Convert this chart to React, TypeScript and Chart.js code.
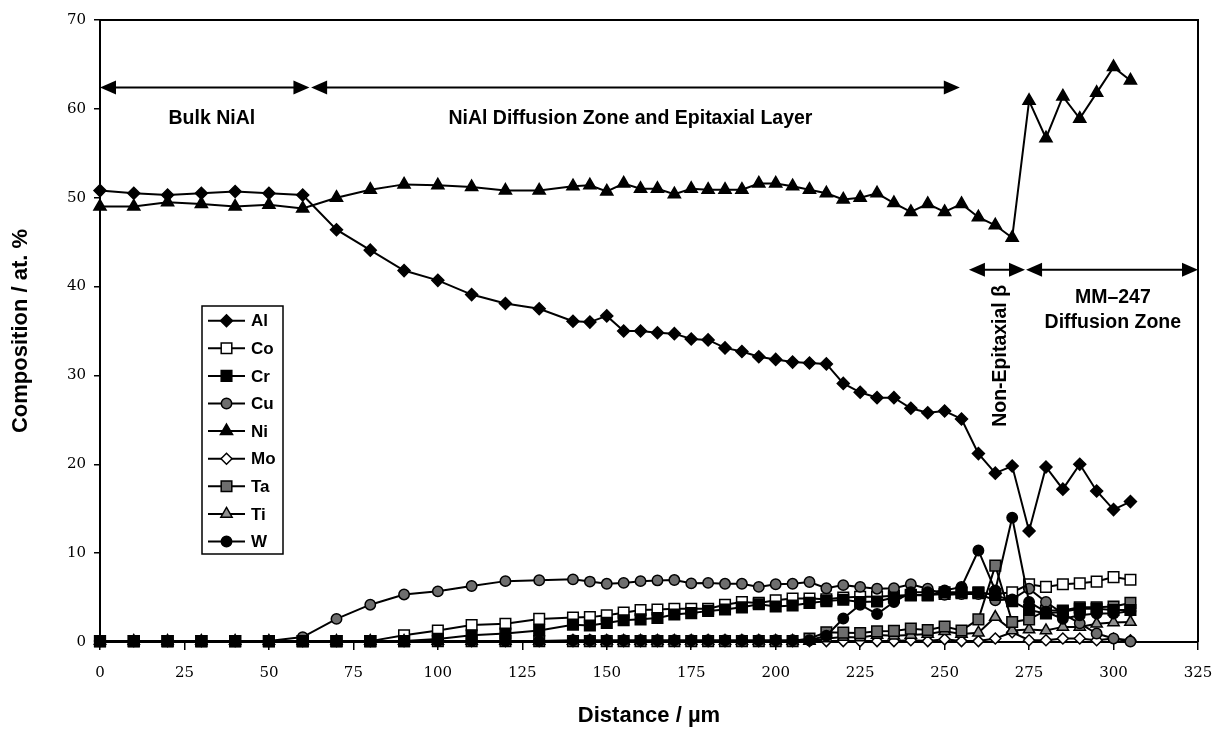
import React, { useEffect, useRef } from 'react';
import { Chart, registerables } from 'chart.js';
import { drawPoint } from 'chart.js/helpers';

Chart.register(...registerables);

// ---- data (distance in µm, composition in at.%) ----
const distance = [0, 10, 20, 30, 40, 50, 60, 70, 80, 90, 100, 110, 120, 130, 140,
  145, 150, 155, 160, 165, 170, 175, 180, 185, 190, 195, 200, 205, 210, 215, 220, 225, 230, 235, 240,
  245, 250, 255, 260, 265, 270, 275, 280, 285, 290, 295, 300, 305];

const alValues = [50.8, 50.5, 50.3, 50.5, 50.7, 50.5, 50.3, 46.4, 44.1, 41.8, 40.7, 39.1, 38.1, 37.5, 36.1,
  36.0, 36.7, 35.0, 35.0, 34.8, 34.7, 34.1, 34.0, 33.1, 32.7, 32.1, 31.8, 31.5, 31.4, 31.3, 29.1, 28.1, 27.5, 27.5, 26.3,
  25.8, 26.0, 25.1, 21.2, 19.0, 19.8, 12.5, 19.7, 17.2, 20.0, 17.0, 14.9, 15.8];

const coValues = [0.1, 0.1, 0.1, 0.1, 0.1, 0.1, 0.1, 0.1, 0.1, 0.75, 1.3, 1.9, 2.05, 2.6, 2.75,
  2.8, 3.0, 3.3, 3.6, 3.65, 3.75, 3.75, 3.75, 4.2, 4.5, 4.4, 4.7, 4.9, 4.9, 4.8, 5.0, 5.1, 5.1, 5.2, 5.3,
  5.3, 5.4, 5.5, 5.5, 5.4, 5.6, 6.5, 6.2, 6.5, 6.6, 6.8, 7.3, 7.0];

const crValues = [0.1, 0.1, 0.1, 0.1, 0.1, 0.1, 0.1, 0.1, 0.1, 0.1, 0.35, 0.75, 0.95, 1.3, 1.95,
  1.85, 2.15, 2.45, 2.55, 2.7, 3.1, 3.25, 3.5, 3.65, 3.9, 4.25, 4.0, 4.1, 4.4, 4.6, 4.75, 4.5, 4.55, 5.0, 5.25,
  5.25, 5.6, 5.6, 5.6, 5.3, 4.6, 3.6, 3.2, 3.4, 3.75, 3.75, 3.6, 3.6];

const cuValues = [0.1, 0.1, 0.1, 0.1, 0.1, 0.1, 0.55, 2.6, 4.2, 5.35, 5.7, 6.3, 6.85, 6.95, 7.05,
  6.8, 6.55, 6.65, 6.85, 6.93, 6.97, 6.6, 6.65, 6.55, 6.55, 6.2, 6.5, 6.55, 6.75, 6.05, 6.4, 6.2, 6.0, 6.05, 6.5,
  6.0, 5.3, 5.4, 5.4, 4.7, 4.8, 6.0, 4.5, 3.2, 2.1, 0.95, 0.4, 0.05];

const niValues = [49.0, 49.0, 49.5, 49.3, 49.0, 49.2, 48.8, 50.0, 50.9, 51.5, 51.4, 51.2, 50.8, 50.8, 51.3,
  51.4, 50.7, 51.6, 51.0, 51.0, 50.4, 51.0, 50.9, 50.9, 50.9, 51.6, 51.6, 51.3, 50.9, 50.5, 49.8, 50.0, 50.5, 49.4, 48.4,
  49.3, 48.4, 49.3, 47.8, 46.9, 45.5, 60.9, 56.7, 61.4, 58.9, 61.8, 64.7, 63.2];

const moValues = [0.1, 0.1, 0.1, 0.1, 0.1, 0.1, 0.1, 0.1, 0.1, 0.1, 0.1, 0.1, 0.1, 0.1, 0.1,
  0.1, 0.1, 0.1, 0.1, 0.1, 0.1, 0.1, 0.1, 0.1, 0.1, 0.1, 0.1, 0.1, 0.1, 0.1, 0.1, 0.1, 0.1, 0.1, 0.2,
  0.1, 0.3, 0.1, 0.1, 0.4, 1.1, 0.2, 0.2, 0.4, 0.4, 0.2, 0.4, 0.2];

const taValues = [0.1, 0.1, 0.1, 0.1, 0.1, 0.1, 0.1, 0.1, 0.1, 0.1, 0.1, 0.1, 0.1, 0.1, 0.1,
  0.1, 0.1, 0.1, 0.1, 0.1, 0.1, 0.1, 0.1, 0.1, 0.1, 0.1, 0.1, 0.1, 0.4, 1.1, 1.05, 1.0, 1.2, 1.25, 1.5,
  1.35, 1.75, 1.3, 2.55, 8.6, 2.25, 2.55, 3.55, 3.55, 3.9, 3.9, 4.0, 4.4];

const tiValues = [0.1, 0.1, 0.1, 0.1, 0.1, 0.1, 0.1, 0.1, 0.1, 0.1, 0.1, 0.1, 0.1, 0.1, 0.1,
  0.1, 0.1, 0.1, 0.1, 0.1, 0.1, 0.1, 0.1, 0.1, 0.1, 0.1, 0.1, 0.1, 0.1, 0.4, 0.55, 0.5, 0.8, 0.7, 0.8,
  0.9, 1.2, 0.9, 1.05, 2.8, 1.3, 1.4, 1.3, 1.7, 1.7, 2.05, 2.2, 2.25];

const wValues = [0.1, 0.1, 0.1, 0.1, 0.1, 0.1, 0.1, 0.1, 0.1, 0.1, 0.1, 0.1, 0.1, 0.1, 0.2,
  0.2, 0.2, 0.2, 0.2, 0.2, 0.2, 0.2, 0.2, 0.2, 0.2, 0.2, 0.2, 0.2, 0.2, 0.7, 2.65, 4.2, 3.15, 4.5, 5.6,
  5.6, 5.8, 6.2, 10.3, 5.8, 14.0, 4.5, 3.4, 2.6, 3.0, 3.2, 3.2, 3.5];

const seriesLabels = ['Al', 'Co', 'Cr', 'Cu', 'Ni', 'Mo', 'Ta', 'Ti', 'W'];

// ---- axes ----
const xMin = 0, xMax = 325, xStep = 25;
const yMin = 0, yMax = 70, yStep = 10;
const xTitle = 'Distance / µm';
const yTitle = 'Composition / at. %';

// ---- annotations (data coordinates) ----
const zoneArrows = [
  { from: 0, to: 62, y: 62.4 },
  { from: 62.5, to: 254.5, y: 62.4 },
  { from: 257.2, to: 273.8, y: 41.9 },
  { from: 274.1, to: 325, y: 41.9 },
];
const zoneTexts = [
  { text: 'Bulk NiAl', x: 33.1, y: 58.3, vertical: false },
  { text: 'NiAl Diffusion Zone and Epitaxial Layer', x: 157.0, y: 58.3, vertical: false },
  { text: 'MM\u2013247', x: 299.8, y: 38.2, vertical: false },
  { text: 'Diffusion Zone', x: 299.8, y: 35.3, vertical: false },
  { text: 'Non-Epitaxial \u03b2', x: 266.7, y: 32.2, vertical: true },
];

const GRAY = '#6e6e6e';
const LIGHTGRAY = '#8f8f8f';

// draw order: lower number is drawn on top
const styles: Record<string, any> = {
  Al: { pointStyle: 'rectRot', radius: 6, fill: '#000', order: 0 },
  Co: { pointStyle: 'rect', radius: 7.5, fill: '#fff', order: 7 },
  Cr: { pointStyle: 'rect', radius: 7.5, fill: '#000', order: 2 },
  Cu: { pointStyle: 'circle', radius: 5.2, fill: GRAY, order: 4 },
  Ni: { pointStyle: 'triangle', radius: 7, fill: '#000', order: 1 },
  Mo: { pointStyle: 'rectRot', radius: 5.5, fill: '#fff', order: 8 },
  Ta: { pointStyle: 'rect', radius: 7.5, fill: GRAY, order: 5 },
  Ti: { pointStyle: 'triangle', radius: 6.5, fill: LIGHTGRAY, order: 6 },
  W: { pointStyle: 'circle', radius: 5.2, fill: '#000', order: 3 },
};

const valuesByLabel: Record<string, number[]> = {
  Al: alValues, Co: coValues, Cr: crValues, Cu: cuValues, Ni: niValues,
  Mo: moValues, Ta: taValues, Ti: tiValues, W: wValues,
};

const BOLD = "'Liberation Sans', Arial, sans-serif";
const SERIF = "'DejaVu Serif', serif";

function arrowHead(ctx: CanvasRenderingContext2D, tipX: number, y: number, dir: number) {
  const L = 16, H = 7;
  ctx.beginPath();
  ctx.moveTo(tipX, y);
  ctx.lineTo(tipX - dir * L, y - H);
  ctx.lineTo(tipX - dir * L, y + H);
  ctx.closePath();
  ctx.fill();
}

const framePlugin = {
  id: 'frame',
  afterDatasetsDraw(chart: any) {
    const { ctx, chartArea: ca } = chart;
    ctx.save();
    ctx.strokeStyle = '#000';
    ctx.lineWidth = 2;
    ctx.beginPath();
    ctx.moveTo(ca.left, ca.top);
    ctx.lineTo(ca.right, ca.top);
    ctx.lineTo(ca.right, ca.bottom);
    ctx.stroke();
    ctx.restore();
  },
};

const annotationPlugin = {
  id: 'zones',
  afterDraw(chart: any) {
    const { ctx } = chart;
    const xs = chart.scales.x, ys = chart.scales.y;
    ctx.save();
    ctx.fillStyle = '#000';
    ctx.strokeStyle = '#000';
    ctx.lineWidth = 2;
    for (const a of zoneArrows) {
      const x1 = xs.getPixelForValue(a.from);
      const x2 = xs.getPixelForValue(a.to);
      const y = ys.getPixelForValue(a.y);
      ctx.beginPath();
      ctx.moveTo(x1 + 8, y);
      ctx.lineTo(x2 - 8, y);
      ctx.stroke();
      arrowHead(ctx, x1, y, -1);
      arrowHead(ctx, x2, y, 1);
    }
    ctx.font = `bold 19.5px ${BOLD}`;
    for (const t of zoneTexts) {
      const x = xs.getPixelForValue(t.x);
      const y = ys.getPixelForValue(t.y);
      if (t.vertical) {
        ctx.save();
        ctx.translate(x, y);
        ctx.rotate(-Math.PI / 2);
        ctx.textAlign = 'center';
        ctx.textBaseline = 'middle';
        ctx.fillText(t.text, 0, 0);
        ctx.restore();
      } else {
        ctx.textAlign = 'center';
        ctx.textBaseline = 'alphabetic';
        ctx.fillText(t.text, x, y);
      }
    }

    // legend box
    const ca = chart.chartArea;
    const bx = ca.left + 102, by = ca.top + 286, bw = 81, bh = 248;
    ctx.fillStyle = '#fff';
    ctx.fillRect(bx, by, bw, bh);
    ctx.strokeStyle = '#000';
    ctx.lineWidth = 1.5;
    ctx.strokeRect(bx, by, bw, bh);
    chart.data.datasets.forEach((ds: any, i: number) => {
      const cy = by + 14.7 + i * 27.6;
      ctx.strokeStyle = '#000';
      ctx.lineWidth = 2;
      ctx.beginPath();
      ctx.moveTo(bx + 6, cy);
      ctx.lineTo(bx + 43, cy);
      ctx.stroke();
      ctx.fillStyle = ds.pointBackgroundColor;
      ctx.lineWidth = ds.pointBorderWidth;
      drawPoint(ctx, { pointStyle: ds.pointStyle, radius: ds.pointRadius, rotation: 0, borderWidth: ds.pointBorderWidth } as any, bx + 24.5, cy);
      ctx.fillStyle = '#000';
      ctx.font = `bold 17px ${BOLD}`;
      ctx.textAlign = 'left';
      ctx.textBaseline = 'middle';
      ctx.fillText(ds.label, bx + 49, cy + 1);
    });
    ctx.restore();
  },
};

export default function App() {
  const ref = useRef<HTMLCanvasElement>(null);
  useEffect(() => {
    document.body.style.margin = '0';
    const canvas = ref.current!;
    const datasets = seriesLabels.map((label) => {
      const st = styles[label];
      const vals = valuesByLabel[label];
      return {
        label,
        data: distance.map((x, i) => ({ x, y: vals[i] })),
        order: st.order,
        borderColor: '#000',
        borderWidth: 2,
        pointStyle: st.pointStyle,
        pointRadius: st.radius,
        pointHoverRadius: st.radius,
        pointBackgroundColor: st.fill,
        pointBorderColor: '#000',
        pointBorderWidth: 1.5,
        tension: 0,
        fill: false,
        clip: false as any,
      };
    });
    const chart = new Chart(canvas, {
      type: 'line',
      data: { datasets },
      options: {
        responsive: false,
        animation: false,
        devicePixelRatio: 1,
        layout: { padding: { left: 0, right: 18, top: 20, bottom: 0 } },
        plugins: { legend: { display: false }, tooltip: { enabled: false } },
        scales: {
          x: {
            type: 'linear',
            min: xMin,
            max: xMax,
            ticks: { stepSize: xStep, color: '#000', font: { family: SERIF, size: 15 }, padding: 14, maxRotation: 0 },
            grid: { display: true, drawOnChartArea: false, drawTicks: true, tickLength: 8, color: '#000', lineWidth: 1.5 },
            border: { display: true, color: '#000', width: 2 },
            title: { display: true, text: xTitle, color: '#000', font: { family: BOLD, size: 22, weight: 'bold' }, padding: { top: 0, bottom: 0 } },
            afterFit: (s: any) => { s.height = 87; s.paddingLeft = 0; s.paddingRight = 0; },
          },
          y: {
            type: 'linear',
            min: yMin,
            max: yMax,
            ticks: { stepSize: yStep, color: '#000', font: { family: SERIF, size: 15 }, padding: 8 },
            grid: { display: true, drawOnChartArea: false, drawTicks: true, tickLength: 6, color: '#000', lineWidth: 1.5 },
            border: { display: true, color: '#000', width: 2 },
            title: { display: true, text: yTitle, color: '#000', font: { family: BOLD, size: 22, weight: 'bold' }, padding: { top: 8, bottom: 0 } },
            afterFit: (s: any) => { s.width = 100; s.paddingTop = 0; s.paddingBottom = 0; },
          },
        },
      },
      plugins: [framePlugin, annotationPlugin],
    } as any);
    return () => chart.destroy();
  }, []);
  return <canvas ref={ref} width={1216} height={729} style={{ display: 'block' }} />;
}
